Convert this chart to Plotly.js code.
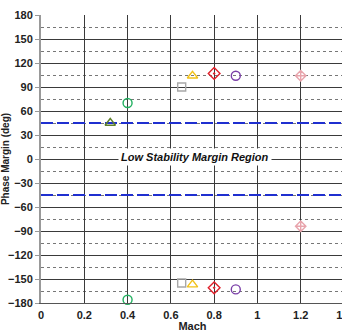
<!DOCTYPE html>
<html>
<head>
<meta charset="utf-8">
<script src="https://cdn.plot.ly/plotly-3.0.1.min.js"></script>
<style>
html,body{margin:0;padding:0;overflow:hidden;width:342px;height:332px;background:#fff;}
#chart{position:absolute;left:0;top:0;}
</style>
</head>
<body>
<div id="chart"></div>
<script>
// Data
const greenCircleX = [0.4, 0.4];
const greenCircleY = [70, -176];
const oliveTriangleX = [0.32];
const oliveTriangleY = [45];
const graySquareX = [0.65, 0.65];
const graySquareY = [90, -155];
const yellowTriangleX = [0.7, 0.7];
const yellowTriangleY = [104, -157];
const redDiamondX = [0.8, 0.8];
const redDiamondY = [107, -161];
const purpleCircleX = [0.9, 0.9];
const purpleCircleY = [104, -163];
const pinkX = [1.2, 1.2];
const pinkY = [104, -84];
const marginLimits = [45, -45];
const xRange = [0, 1.4];
const xTickVals = [0, 0.2, 0.4, 0.6, 0.8, 1, 1.2, 1.4];
const xTickText = ["0", "0.2", "0.4", "0.6", "0.8", "1", "1.2", "1.4"];
const yTickVals = [180, 150, 120, 90, 60, 30, 0, -30, -60, -90, -120, -150, -180];

function mk(x, y, symbol, color, size) {
  return {x: x, y: y, type: 'scatter', mode: 'markers', showlegend: false,
    marker: {symbol: symbol, size: size, color: color, line: {color: color, width: 1.4}},
    cliponaxis: false};
}

const limitTraces = marginLimits.map(v => ({
  x: xRange, y: [v, v], type: 'scatter', mode: 'lines', showlegend: false,
  line: {color: '#1f2fd0', width: 2, dash: '12px,4px'}, hoverinfo: 'skip'
}));

const data = limitTraces.concat([
  mk(greenCircleX, greenCircleY, 'circle-open', '#22b060', 9),
  mk(oliveTriangleX, oliveTriangleY, 'triangle-up-open', '#5f7f2a', 9),
  mk(graySquareX, graySquareY, 'square-open', '#a8a8a8', 8),
  mk(yellowTriangleX, yellowTriangleY, 'triangle-up-open', '#f2c21a', 9),
  mk(redDiamondX, redDiamondY, 'diamond-open-dot', '#e0202a', 9),
  mk(purpleCircleX, purpleCircleY, 'circle-open', '#7a3fa8', 9),
  mk(pinkX, pinkY, 'diamond-cross-open', '#e8a4ac', 8)
]);

const tickFont = {family: 'Arial, Liberation Sans, sans-serif', size: 11, color: '#222', weight: 'bold'};

const layout = {
  width: 360, height: 332,
  margin: {l: 41, r: 16, t: 15, b: 29},
  paper_bgcolor: '#fff', plot_bgcolor: '#fff',
  showlegend: false,
  xaxis: {
    range: xRange, tickvals: xTickVals, ticktext: xTickText,
    showgrid: true, gridcolor: '#3a3a3a', gridwidth: 1,
    zeroline: false, showline: true, linecolor: '#555', linewidth: 1,
    ticks: '', tickfont: tickFont, ticklabelstandoff: 2,
    title: {text: 'Mach', font: {family: 'Arial, Liberation Sans, sans-serif', size: 11, color: '#222', weight: 'bold'}, standoff: 0},
    automargin: false
  },
  yaxis: {
    range: [-180, 180], tickvals: yTickVals,
    showgrid: true, gridcolor: '#3a3a3a', gridwidth: 1,
    minor: {dtick: 15, tick0: 15, showgrid: true, gridcolor: '#777', griddash: 'dot', gridwidth: 1},
    zeroline: false, showline: true, linecolor: '#999', linewidth: 2,
    ticks: 'outside', ticklen: 4, tickcolor: '#999', tickfont: tickFont,
    title: {text: 'Phase Margin (deg)', font: {family: 'Arial, Liberation Sans, sans-serif', size: 10, color: '#222', weight: 'bold'}, standoff: 4},
    automargin: false
  },
  annotations: [
    {x: 0.71, y: 3, xref: 'x', yref: 'y', text: '<b><i>Low Stability Margin Region</i></b>',
     showarrow: false, bgcolor: '#fff', borderpad: 2,
     font: {family: 'Arial, Liberation Sans, sans-serif', size: 11, color: '#111'}},
    {x: 0.525, y: 1, xref: 'paper', yref: 'paper', xanchor: 'right', yanchor: 'bottom', yshift: 13,
     text: 'Phase Margin', showarrow: false,
     font: {family: 'Liberation Serif, Times New Roman, serif', size: 18, color: '#111'}}
  ]
};

Plotly.newPlot('chart', data, layout, {staticPlot: true, displayModeBar: false});
</script>
</body>
</html>
